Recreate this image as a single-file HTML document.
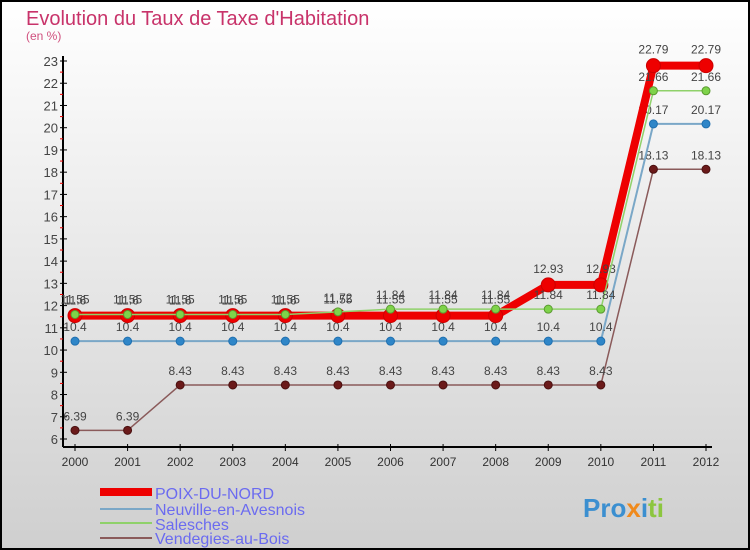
<!DOCTYPE html>
<html><head><meta charset="utf-8"><style>
body{margin:0}
#c{width:750px;height:550px;position:relative;overflow:hidden}
svg text{font-family:"Liberation Sans",sans-serif}
</style></head><body>
<div id="c">
<svg id="s" width="750" height="550" xmlns="http://www.w3.org/2000/svg">
<defs><linearGradient id="bg" x1="0" y1="0" x2="0" y2="1"><stop offset="0" stop-color="#ffffff"/><stop offset="1" stop-color="#cfcfcf"/></linearGradient></defs>
<rect x="1" y="1" width="748" height="548" fill="url(#bg)" stroke="#000" stroke-width="2"/>
<text x="26" y="25" font-size="20" fill="#c8336a">Evolution du Taux de Taxe d'Habitation</text>
<text x="26" y="40" font-size="12" fill="#d0507e">(en %)</text>
<g id="axes"></g><g id="series"></g>
<g>
<rect x="100" y="488" width="52" height="8" fill="#e00"/>
<text x="155" y="499" font-size="16" fill="#6b6bf0">POIX-DU-NORD</text>
<line x1="100" y1="509" x2="152" y2="509" stroke="#7aa7c7" stroke-width="2"/>
<text x="155" y="515" font-size="16" fill="#6b6bf0">Neuville-en-Avesnois</text>
<line x1="100" y1="523" x2="152" y2="523" stroke="#8fd16a" stroke-width="2"/>
<text x="155" y="530" font-size="16" fill="#6b6bf0">Salesches</text>
<line x1="100" y1="538" x2="152" y2="538" stroke="#8a5a5a" stroke-width="2"/>
<text x="155" y="544" font-size="16" fill="#6b6bf0">Vendegies-au-Bois</text>
</g>
<text x="583" y="517" font-size="26" font-weight="bold"><tspan fill="#3b8fd0">Pro</tspan><tspan fill="#f08a1c">x</tspan><tspan fill="#3b8fd0">i</tspan><tspan fill="#8cc63f">ti</tspan></text>
</svg></div>
<script>
const years=[2000,2001,2002,2003,2004,2005,2006,2007,2008,2009,2010,2011,2012];
const poix=[11.55,11.55,11.55,11.55,11.55,11.55,11.55,11.55,11.55,12.93,12.93,22.79,22.79];
const neuville=[10.4,10.4,10.4,10.4,10.4,10.4,10.4,10.4,10.4,10.4,10.4,20.17,20.17];
const salesches=[11.6,11.6,11.6,11.6,11.6,11.72,11.84,11.84,11.84,11.84,11.84,21.66,21.66];
const vendegies=[6.39,6.39,8.43,8.43,8.43,8.43,8.43,8.43,8.43,8.43,8.43,18.13,18.13];
const yTicks=[6,7,8,9,10,11,12,13,14,15,16,17,18,19,20,21,22,23];
const NS="http://www.w3.org/2000/svg";
const X=i=>75+i*(706-75)/12, Y=v=>439-(v-6)*(378/17);
function mk(t,a,p){const e=document.createElementNS(NS,t);for(const k in a)e.setAttribute(k,a[k]);p.appendChild(e);return e;}
const ax=document.getElementById('axes');
let l=mk('line',{x1:63,y1:56,x2:63,y2:447,stroke:'#000','stroke-width':2},ax);


l=mk('line',{x1:63,y1:447,x2:712,y2:447,stroke:'#000','stroke-width':2},ax);


yTicks.forEach(v=>{mk('line',{x1:60,y1:Y(v),x2:67,y2:Y(v),stroke:'#000'},ax);
 if(v<23)mk('line',{x1:60,y1:Y(v+0.5),x2:63,y2:Y(v+0.5),stroke:'#e00'},ax);
 const t=mk('text',{x:58,y:Y(v)+5,'font-size':13,fill:'#444','text-anchor':'end'},ax);t.textContent=v;
 
 });
years.forEach((yr,i)=>{mk('line',{x1:X(i),y1:444,x2:X(i),y2:451,stroke:'#000'},ax);
 const t=mk('text',{x:X(i),y:466,'font-size':12,fill:'#333','text-anchor':'middle'},ax);t.textContent=yr;
 
 });
const sg=document.getElementById('series');
function draw(d,name,col,w,r,fill,stroke,off){
 const g=mk('g',{},sg);
 
 
 mk('polyline',{points:d.map((v,i)=>X(i)+','+Y(v)).join(' '),fill:'none',stroke:col,'stroke-width':w,'stroke-linejoin':'round'},g);
 d.forEach((v,i)=>{mk('circle',{cx:X(i),cy:Y(v),r:r,fill:fill,stroke:stroke,'stroke-width':1},g);
  const t=mk('text',{x:X(i),y:Y(v)-off,'font-size':12,fill:'#444','text-anchor':'middle'},g);t.textContent=v;});
}
draw(vendegies,'series-vendegies','#8a5a5a',1.5,4,'#6b1a1a','#4a1010',10);
draw(neuville,'series-neuville','#7aa7c7',2,4,'#2f86c8','#2070b0',10);
draw(poix,'series-poix','#e00',8,7,'#e00','#c00',12);
draw(salesches,'series-salesches','#8fd16a',1.5,4,'#7ed34a','#5a9a30',10);
</script>
</body></html>
